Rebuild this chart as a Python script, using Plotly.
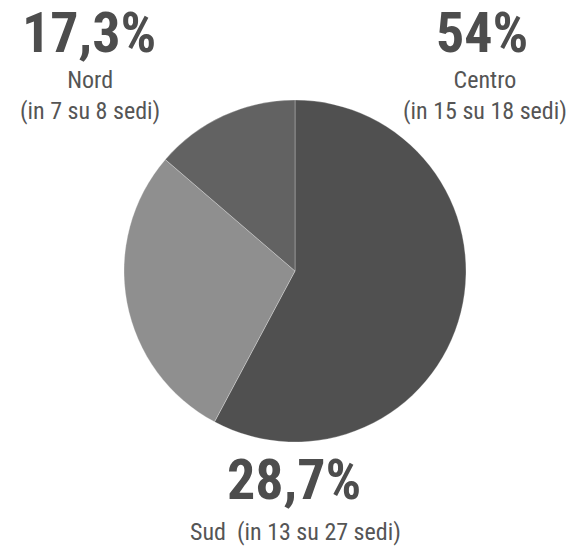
import plotly.graph_objects as go

W, H = 571, 547

# Data
regions = ["Centro", "Sud", "Nord"]
slice_values = [57.8, 28.5, 13.7]          # shares as drawn in the pie
label_pcts = ["54%", "28,7%", "17,3%"]      # printed percentages
label_subs = ["Centro<br>(in 15 su 18 sedi)", "Sud  (in 13 su 27 sedi)", "Nord<br>(in 7 su 8 sedi)"]
colors = ["#505050", "#8f8f8f", "#626262"]

FONT = "Liberation Sans Narrow, Roboto Condensed, Arial Narrow, Roboto, sans-serif"

def px(x):
    return x / W

def py(y):
    return 1 - y / H

fig = go.Figure(go.Pie(
    labels=regions,
    values=slice_values,
    sort=False,
    direction="clockwise",
    rotation=0,
    textinfo="none",
    hoverinfo="skip",
    showlegend=False,
    marker=dict(colors=colors, line=dict(color="rgba(255,255,255,0.35)", width=0.8)),
    domain=dict(x=[px(124), px(466)], y=[py(442), py(100)]),
))

# label positions (pixel centers)
big_pos = [(482, 33), (294, 480), (89, 33)]
sub_pos = [(485, 95), (295, 532), (90, 95)]

annotations = []
for i in range(3):
    bx, by = big_pos[i]
    annotations.append(dict(
        x=px(bx), y=py(by), xref="paper", yref="paper", showarrow=False,
        text="<b>%s</b>" % label_pcts[i], xanchor="center", yanchor="middle",
        font=dict(family=FONT, size=56, color="#4d4d4d"),
    ))
    sx, sy = sub_pos[i]
    annotations.append(dict(
        x=px(sx), y=py(sy), xref="paper", yref="paper", showarrow=False,
        text=label_subs[i], xanchor="center", yanchor="middle", align="center",
        font=dict(family=FONT, size=24, color="#555555"),
    ))

fig.update_layout(
    width=W, height=H,
    margin=dict(l=0, r=0, t=0, b=0),
    paper_bgcolor="white", plot_bgcolor="white",
    annotations=annotations,
)

fig.write_html("out.html", config={"displayModeBar": False},
               post_script="document.body.style.margin='0';document.body.style.overflow='hidden';")
